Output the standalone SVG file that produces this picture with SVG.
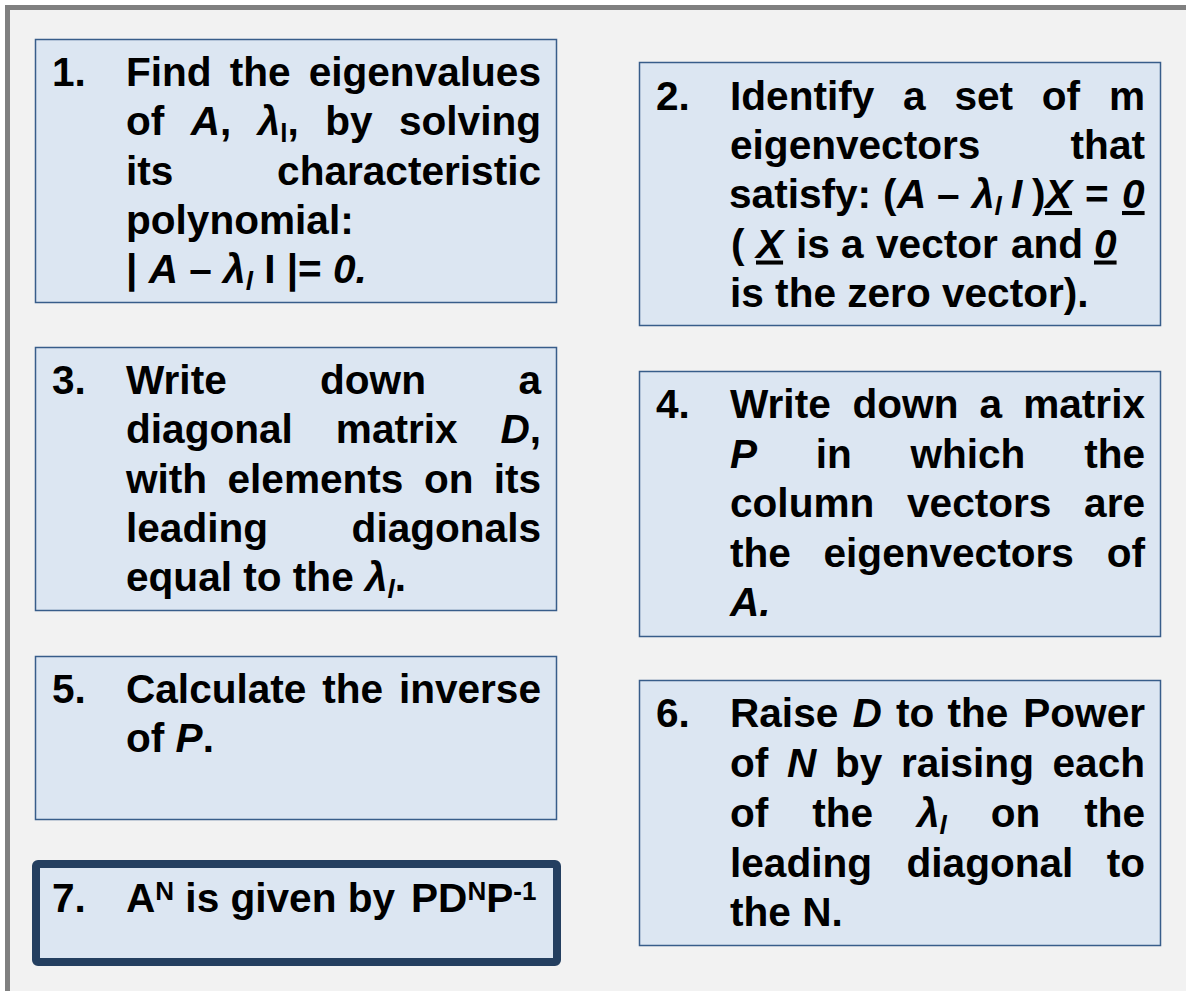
<svg xmlns="http://www.w3.org/2000/svg" width="1186" height="991" viewBox="0 0 1186 991">
<style>
.t{font-family:"Liberation Sans",Arial,sans-serif;font-size:40.6px;font-weight:bold;fill:#000}
.i{font-style:italic}
.r{text-anchor:end}
.s{font-size:26px}
.u{text-decoration:underline}
.box{fill:#dce6f2;stroke:#385d8a;stroke-width:1.5}
.box7{fill:#dce6f2;stroke:#243f60;stroke-width:8}
</style>
<rect x="0" y="0" width="1186" height="991" fill="#ffffff"/>
<rect x="7.5" y="7.5" width="1200" height="1000" fill="#f2f2f2" stroke="#808080" stroke-width="5"/>
<g id="connectors"/>
<g id="step1">
<rect class="box" x="35.5" y="39.5" width="521" height="263"/>
<text class="t" x="52" y="86">1.</text>
<text class="t" y="86"><tspan x="126">Find</tspan><tspan x="229.7">the</tspan></text>
<text class="t r" x="541" y="86">eigenvalues</text>
<text class="t" y="135.3"><tspan x="126">of</tspan><tspan x="190.7" class="i">A</tspan>,<tspan x="257.7" class="i">λ</tspan><tspan class="s" dy="7">l</tspan><tspan dy="-7">,</tspan><tspan x="325.2">by</tspan></text>
<text class="t r" x="541" y="135.3">solving</text>
<text class="t" x="126" y="184.6">its</text>
<text class="t r" x="541" y="184.6">characteristic</text>
<text class="t" x="126" y="234">polynomial:</text>
<text class="t" x="126" y="283">| <tspan class="i">A</tspan> – <tspan class="i">λ</tspan><tspan class="s i" dy="7">l</tspan><tspan dy="-7"> I |= </tspan><tspan class="i">0.</tspan></text>
</g>
<g id="step2">
<rect class="box" x="639.5" y="62.5" width="521" height="263"/>
<text class="t" x="656" y="109.5">2.</text>
<text class="t" y="109.5"><tspan x="730">Identify</tspan><tspan x="903.1">a</tspan><tspan x="954.4">set</tspan><tspan x="1041.8">of</tspan></text>
<text class="t r" x="1145" y="109.5">m</text>
<text class="t" x="730" y="159">eigenvectors</text>
<text class="t r" x="1145" y="159">that</text>
<text class="t" y="208"><tspan x="729">satisfy:</tspan><tspan x="883">(</tspan><tspan x="897" class="i">A</tspan><tspan x="937">–</tspan><tspan x="972" class="i">λ</tspan><tspan class="s i" dy="7">l</tspan><tspan x="1011" dy="-7" class="i">I</tspan><tspan x="1032">)</tspan><tspan x="1045" class="i u">X</tspan><tspan x="1085">=</tspan><tspan x="1122" class="i u">0</tspan></text>
<text class="t" y="257.5"><tspan x="731">(</tspan><tspan x="756" class="i u">X</tspan><tspan x="796">is</tspan><tspan x="841">a</tspan><tspan x="876">vector</tspan><tspan x="1011">and</tspan><tspan x="1094" class="i u">0</tspan></text>
<text class="t" x="730" y="307">is the zero vector).</text>
</g>
<g id="step3">
<rect class="box" x="35.5" y="347.5" width="521" height="263"/>
<text class="t" x="52" y="393.5">3.</text>
<text class="t" y="393.5"><tspan x="126">Write</tspan><tspan x="320">down</tspan></text>
<text class="t r" x="541" y="393.5">a</text>
<text class="t" y="443"><tspan x="126">diagonal</tspan><tspan x="335.8">matrix</tspan></text>
<text class="t r" x="541" y="443"><tspan class="i">D</tspan>,</text>
<text class="t" y="492.5"><tspan x="126">with</tspan><tspan x="227.5">elements</tspan><tspan x="424">on</tspan></text>
<text class="t r" x="541" y="492.5">its</text>
<text class="t" x="126" y="542">leading</text>
<text class="t r" x="541" y="542">diagonals</text>
<text class="t" x="126" y="591">equal to the <tspan class="i">λ</tspan><tspan class="s i" dy="7">l</tspan><tspan dy="-7">.</tspan></text>
</g>
<g id="step4">
<rect class="box" x="639.5" y="371.5" width="521" height="265"/>
<text class="t" x="656" y="418">4.</text>
<text class="t" y="418"><tspan x="730">Write</tspan><tspan x="852.5">down</tspan><tspan x="979.5">a</tspan></text>
<text class="t r" x="1145" y="418">matrix</text>
<text class="t" y="467.5"><tspan x="730" class="i">P</tspan><tspan x="815.7">in</tspan><tspan x="910.4">which</tspan></text>
<text class="t r" x="1145" y="467.5">the</text>
<text class="t" y="517"><tspan x="730">column</tspan><tspan x="907">vectors</tspan></text>
<text class="t r" x="1145" y="517">are</text>
<text class="t" y="566.5"><tspan x="730">the</tspan><tspan x="823.5">eigenvectors</tspan></text>
<text class="t r" x="1145" y="566.5">of</text>
<text class="t i" x="730" y="616">A.</text>
</g>
<g id="step5">
<rect class="box" x="35.5" y="656.5" width="521" height="163"/>
<text class="t" x="52" y="703">5.</text>
<text class="t" y="703"><tspan x="126">Calculate</tspan><tspan x="322.2">the</tspan></text>
<text class="t r" x="541" y="703">inverse</text>
<text class="t" x="126" y="752">of <tspan class="i">P</tspan>.</text>
</g>
<g id="step6">
<rect class="box" x="639.5" y="680.5" width="521" height="265"/>
<text class="t" x="656" y="727">6.</text>
<text class="t" y="727"><tspan x="730">Raise</tspan><tspan x="852.4" class="i">D</tspan><tspan x="896.1">to</tspan><tspan x="947.5">the</tspan></text>
<text class="t r" x="1145" y="727">Power</text>
<text class="t" y="777"><tspan x="730">of</tspan><tspan x="787" class="i">N</tspan><tspan x="834.9">by</tspan><tspan x="900.9">raising</tspan></text>
<text class="t r" x="1145" y="777">each</text>
<text class="t" y="827"><tspan x="730">of</tspan><tspan x="812.2">the</tspan><tspan x="917" class="i">λ</tspan><tspan class="s i" dy="7">l</tspan><tspan x="990.7" dy="-7">on</tspan></text>
<text class="t r" x="1145" y="827">the</text>
<text class="t" y="876.5"><tspan x="730">leading</tspan><tspan x="906.5">diagonal</tspan></text>
<text class="t r" x="1145" y="876.5">to</text>
<text class="t" x="730" y="926">the N.</text>
</g>
<g id="step7">
<rect class="box7" x="36" y="864" width="521" height="98" rx="2"/>
<text class="t" x="52" y="912">7.</text>
<text class="t" y="912"><tspan x="126">A</tspan><tspan class="s" dy="-12">N</tspan><tspan dy="12"> is given by </tspan><tspan x="411">PD</tspan><tspan class="s" dy="-12">N</tspan><tspan dy="12">P</tspan><tspan class="s" dy="-12">-1</tspan></text>
</g>
</svg>
